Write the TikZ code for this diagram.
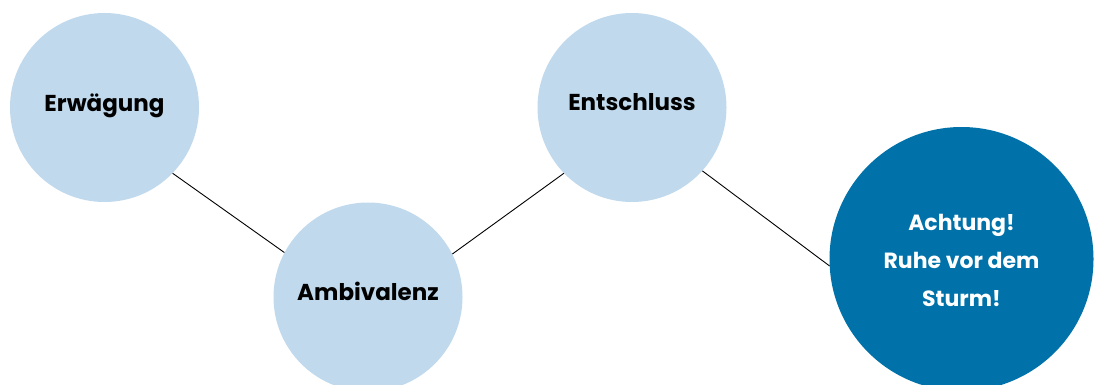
\documentclass[tikz,border=0pt]{standalone}
\usepackage{fontspec}
\setmainfont{Poppins}
\definecolor{lightbub}{RGB}{192,217,236}
\definecolor{darkbub}{RGB}{0,114,169}
\begin{document}
\begin{tikzpicture}[x=1pt,y=-1pt,
  bub/.style={circle,fill=lightbub,draw=none,minimum size=189pt,inner sep=0pt},
  bigbub/.style={circle,fill=darkbub,draw=none,minimum size=264pt,inner sep=0pt},
  lbl/.style={font=\fontsize{23}{38}\selectfont\bfseries,inner sep=0pt,anchor=base},
  wlbl/.style={font=\fontsize{22}{38}\selectfont\bfseries,inner sep=0pt,text=white,align=center},
  conn/.style={draw=black,line width=0.9pt}]
\useasboundingbox (0,0) rectangle (1094,385);
\clip (0,0) rectangle (1094,385);
\node[bub] (erw) at (104.5,107.5) {};
\node[bub] (amb) at (368,297) {};
\node[bub] (ent) at (632,107.5) {};
\node[bigbub] (ach) at (961.5,259) {};
\node[lbl] (erwt) at (104.5,112) {Erwägung};
\node[lbl] (ambt) at (368,300) {Ambivalenz};
\node[lbl] (entt) at (632,111) {Entschluss};
\node[wlbl] (acht) at (961.5,260) {Achtung!\\Ruhe vor dem\\Sturm!};
\draw[conn] (erw.-44) -- (amb.152);
\draw[conn] (amb.27.6) -- (ent.224);
\draw[conn] (ent.-42.8) -- (ach.183.5);
\end{tikzpicture}
\end{document}
